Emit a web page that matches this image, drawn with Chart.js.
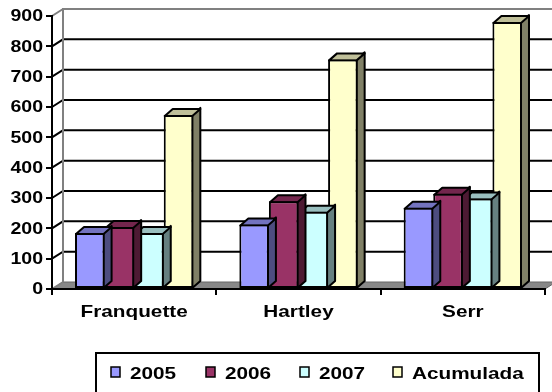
<!DOCTYPE html>
<html>
<head>
<meta charset="utf-8">
<script src="https://cdn.jsdelivr.net/npm/chart.js@4/dist/chart.umd.min.js"></script>
<style>
  html, body { margin: 0; padding: 0; background: #fff; overflow: hidden; }
  #wrap { width: 552px; height: 392px; position: relative; }
</style>
</head>
<body>
<div id="wrap"><canvas id="c" width="552" height="392"></canvas></div>
<script>
// Categories, series and axis ticks
const categories = ['Franquette', 'Hartley', 'Serr'];
const seriesNames = ['2005', '2006', '2007', 'Acumulada'];
const values2005 = [185, 213, 268];
const values2006 = [204, 289, 314];
const values2007 = [185, 255, 298];
const valuesAcumulada = [574, 757, 880];
const seriesColors = ['#9999FF', '#993366', '#CCFFFF', '#FFFFCC'];
const yTickValues = [0, 100, 200, 300, 400, 500, 600, 700, 800, 900];

// Oblique depth of the walls/floor and of each column
const WALL_DX = 11, WALL_DY = -7;
const BAR_DX = 8, BAR_DY = -7;
const TEXT_STRETCH = 1.22;
const FONT = 'bold 17px "Liberation Sans", Arial, sans-serif';
const TICK_FONT = 'bold 16px "Liberation Sans", Arial, sans-serif';

function shade(hex, f) {
  const n = parseInt(hex.slice(1), 16);
  const r = Math.round(((n >> 16) & 255) * f);
  const g = Math.round(((n >> 8) & 255) * f);
  const b = Math.round((n & 255) * f);
  return `rgb(${r},${g},${b})`;
}

function wideText(ctx, text, x, y, align) {
  ctx.save();
  ctx.translate(x, y);
  ctx.scale(TEXT_STRETCH, 1);
  ctx.textAlign = align;
  ctx.fillText(text, 0, 0);
  ctx.restore();
}

const depthPlugin = {
  id: 'depth3d',
  beforeDraw(chart) {
    const { ctx, chartArea: a, scales: { y } } = chart;
    ctx.save();
    ctx.fillStyle = '#fff';
    ctx.fillRect(0, 0, chart.width, chart.height);

    // floor
    ctx.beginPath();
    ctx.moveTo(a.left, a.bottom);
    ctx.lineTo(a.right, a.bottom);
    ctx.lineTo(a.right + WALL_DX, a.bottom + WALL_DY);
    ctx.lineTo(chart.width + 5, a.bottom + WALL_DY);
    ctx.lineTo(a.left + WALL_DX, a.bottom + WALL_DY);
    ctx.closePath();
    ctx.fillStyle = '#888888';
    ctx.fill();
    ctx.strokeStyle = '#666666';
    ctx.lineWidth = 1;
    ctx.stroke();

    // gridlines on side wall and back wall
    ctx.strokeStyle = '#000';
    ctx.lineWidth = 2;
    yTickValues.forEach(v => {
      if (v === 0 || v === yTickValues[yTickValues.length - 1]) return;
      const py = y.getPixelForValue(v);
      ctx.beginPath();
      ctx.moveTo(a.left, py);
      ctx.lineTo(a.left + WALL_DX, py + WALL_DY);
      ctx.lineTo(chart.width, py + WALL_DY);
      ctx.stroke();
    });

    // wall edges
    ctx.strokeStyle = '#808080';
    ctx.lineWidth = 2;
    ctx.beginPath();
    ctx.moveTo(a.left + WALL_DX, a.bottom + WALL_DY);
    ctx.lineTo(a.left + WALL_DX, a.top + WALL_DY);
    ctx.lineTo(chart.width, a.top + WALL_DY);
    ctx.moveTo(a.left, a.top);
    ctx.lineTo(a.left + WALL_DX, a.top + WALL_DY);
    ctx.moveTo(a.left, a.bottom);
    ctx.lineTo(a.left + WALL_DX, a.bottom + WALL_DY);
    ctx.stroke();
    ctx.restore();
  },
  beforeDatasetDraw(chart, args) {
    const { ctx } = chart;
    const color = chart.data.datasets[args.index].backgroundColor;
    ctx.save();
    ctx.lineWidth = 2;
    ctx.lineJoin = 'round';
    ctx.strokeStyle = '#000';
    args.meta.data.forEach(bar => {
      const { x, y, base, width } = bar.getProps(['x', 'y', 'base', 'width'], true);
      const l = x - width / 2, r = x + width / 2;
      // side face
      ctx.beginPath();
      ctx.moveTo(r - 1, y);
      ctx.lineTo(r - 1 + BAR_DX, y + BAR_DY);
      ctx.lineTo(r - 1 + BAR_DX, base + BAR_DY);
      ctx.lineTo(r - 1, base);
      ctx.closePath();
      ctx.fillStyle = shade(color, 0.5);
      ctx.fill();
      ctx.stroke();
      // top face
      ctx.beginPath();
      ctx.moveTo(l + 1, y + 1);
      ctx.lineTo(l + 1 + BAR_DX, y + 1 + BAR_DY);
      ctx.lineTo(r - 1 + BAR_DX, y + 1 + BAR_DY);
      ctx.lineTo(r - 1, y + 1);
      ctx.closePath();
      ctx.fillStyle = shade(color, 0.75);
      ctx.fill();
      ctx.stroke();
    });
    ctx.restore();
  },
  afterDraw(chart) {
    const { ctx, chartArea: a, scales: { x, y } } = chart;
    ctx.save();
    ctx.fillStyle = '#000';
    ctx.textBaseline = 'middle';
    ctx.font = TICK_FONT;
    y.ticks.forEach(t => {
      wideText(ctx, String(t.value), a.left - 9, y.getPixelForValue(t.value) + 1, 'right');
    });
    ctx.font = FONT;
    ctx.textBaseline = 'alphabetic';
    categories.forEach((c, i) => {
      wideText(ctx, c, x.getPixelForValue(i), 317, 'center');
    });

    // legend
    ctx.strokeStyle = '#000';
    ctx.lineWidth = 2;
    ctx.strokeRect(96, 353, 443, 50);
    const boxX = [111, 206, 300, 393];
    chart.data.datasets.forEach((ds, i) => {
      ctx.fillStyle = ds.backgroundColor;
      ctx.fillRect(boxX[i], 367, 9, 10);
      ctx.lineWidth = 1.5;
      ctx.strokeRect(boxX[i], 367, 9, 10);
      ctx.fillStyle = '#000';
      wideText(ctx, ds.label, boxX[i] + 19, 379, 'left');
    });
    ctx.restore();
  }
};

const seriesValues = [values2005, values2006, values2007, valuesAcumulada];

new Chart(document.getElementById('c'), {
  type: 'bar',
  data: {
    labels: categories,
    datasets: seriesNames.map((name, i) => ({
      label: name,
      data: seriesValues[i],
      backgroundColor: seriesColors[i],
      borderColor: '#000',
      borderWidth: 2,
      borderSkipped: false,
      categoryPercentage: 0.72,
      barPercentage: 1.0
    }))
  },
  options: {
    responsive: false,
    animation: false,
    devicePixelRatio: 1,
    layout: { padding: { top: 16, right: 7, left: 0, bottom: 0 } },
    plugins: { legend: { display: false }, tooltip: { enabled: false } },
    scales: {
      x: {
        grid: { drawOnChartArea: false, drawTicks: true, tickLength: 6, color: '#000', lineWidth: 2, offset: true },
        border: { display: true, color: '#000', width: 2 },
        ticks: { display: false },
        afterFit(scale) { scale.height = 103; }
      },
      y: {
        min: 0,
        max: 900,
        ticks: { display: false, stepSize: 100 },
        grid: { drawOnChartArea: false, drawTicks: true, tickLength: 6, color: '#000', lineWidth: 2 },
        border: { display: true, color: '#000', width: 2 },
        afterFit(scale) { scale.width = 52; }
      }
    }
  },
  plugins: [depthPlugin]
});
</script>
</body>
</html>
